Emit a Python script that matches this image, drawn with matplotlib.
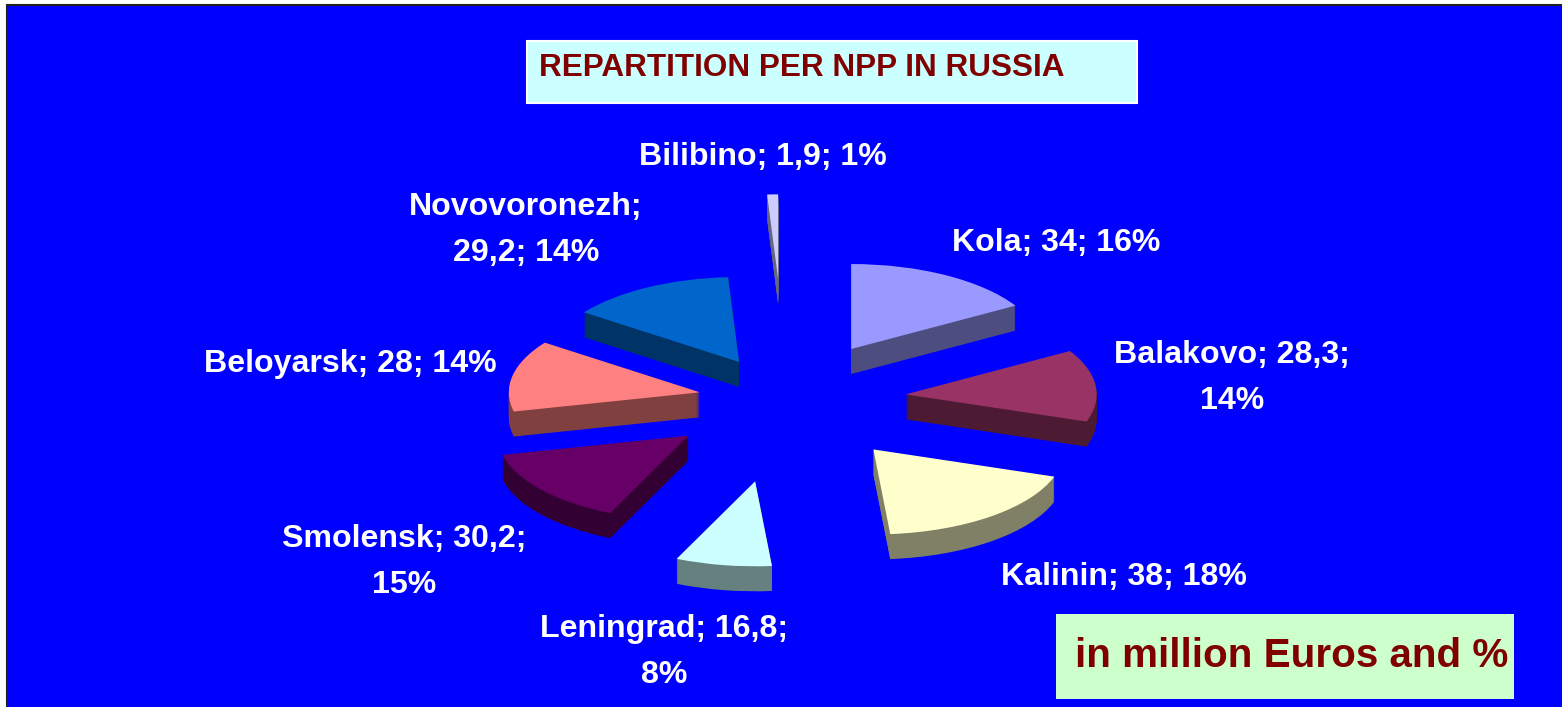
import matplotlib
matplotlib.use("Agg")
import matplotlib.pyplot as plt
from matplotlib.patches import Rectangle

names = ["Kola", "Balakovo", "Kalinin", "Leningrad", "Smolensk", "Beloyarsk", "Novovoronezh", "Bilibino"]
values = [34, 28.3, 38, 16.8, 30.2, 28, 29.2, 1.9]
percents = [16, 14, 18, 8, 15, 14, 14, 1]
# how many fields go on the first line of each label, None = one line
breaks = [None, 2, None, 2, 2, None, 1, None]

top_colors = ["#9999FF", "#993366", "#FFFFCC", "#CCFFFF", "#660066", "#FF8080", "#0066CC", "#CCCCFF"]
side_colors = ["#4D4D80", "#4D1A33", "#808066", "#668080", "#330033", "#804040", "#003366", "#666680"]
explode = [0.69, 0.63, 0.74, 0.97, 0.66, 0.46, 0.51, 1.42]
label_pos = [(1056, 243), (1232, 378), (1124, 577), (664, 652), (404, 562), (350, 364), (526, 230), (763, 157)]

title = "REPARTITION PER NPP IN RUSSIA"
note = "in million Euros and %"

W, H = 1562, 707
cx, cy = 786, 400
rx, ry = 191, 85
depth = 25

fig = plt.figure(figsize=(W / 100, H / 100), dpi=100, facecolor="white")

# background, boxes and text in pixel coordinates
ax = fig.add_axes([0, 0, 1, 1], zorder=1)
ax.set_xlim(0, W)
ax.set_ylim(H, 0)
ax.axis("off")
ax.add_patch(Rectangle((7, 5), W, H, facecolor="#0000FF", edgecolor="#202020", lw=1.5))
ax.add_patch(Rectangle((527, 41), 610, 62, facecolor="#CCFFFF", edgecolor="white", lw=1.5))
ax.add_patch(Rectangle((1056, 614), 458, 85, facecolor="#CCFFCC", edgecolor="none"))

font = "Liberation Sans"
ax.text(539, 68, title, color="#800000", fontsize=22.7, fontweight="bold", family=font, va="center", ha="left")
ax.text(1075, 656, note, color="#800000", fontsize=29.1, fontweight="bold", family=font, va="center", ha="left")

for name, val, pct, br, pos in zip(names, values, percents, breaks, label_pos):
    fields = [name, str(val).replace(".", ","), f"{pct}%"]
    if br is None:
        label = "; ".join(fields)
    else:
        label = "; ".join(fields[:br]) + ";\n" + "; ".join(fields[br:])
    ax.text(pos[0], pos[1], label, color="white", fontsize=23.1, fontweight="bold", family=font,
            ha="center", va="center", multialignment="center", linespacing=1.66)

# the pie, squashed by giving the axes different x and y scales
pie_ax = fig.add_axes([0, 0, 1, 1], zorder=2)
pie_ax.patch.set_visible(False)
for d in range(depth, 0, -1):
    pie_ax.pie(values, explode=explode, colors=side_colors, startangle=90, counterclock=False,
               center=(0, -d / ry), wedgeprops={"linewidth": 0})
pie_ax.pie(values, explode=explode, colors=top_colors, startangle=90, counterclock=False,
           wedgeprops={"linewidth": 0})
pie_ax.set_aspect("auto")
pie_ax.set_xlim(-cx / rx, (W - cx) / rx)
pie_ax.set_ylim((cy - H) / ry, cy / ry)

fig.savefig("out.png", dpi=100, facecolor="white")
